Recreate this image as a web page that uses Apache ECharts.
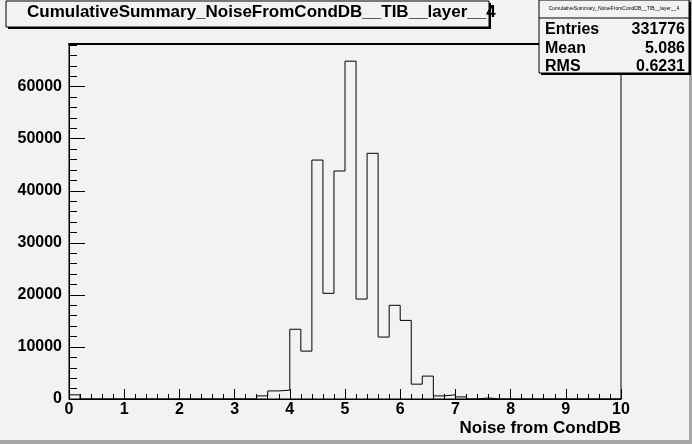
<!DOCTYPE html>
<html>
<head>
<meta charset="utf-8">
<script src="https://cdn.jsdelivr.net/npm/echarts@6/dist/echarts.min.js"></script>
<style>
  html, body { margin: 0; padding: 0; background: #f2f2f2; }
  #chart { width: 692px; height: 444px; }
</style>
</head>
<body>
<div id="chart"></div>
<script>
// histogram: 50 bins of 0.2 from 0 to 10
var histTitle = 'CumulativeSummary_NoiseFromCondDB__TIB__layer__4';
var xTitle = 'Noise from CondDB';
var xMin = 0;
var binWidth = 0.2;
var binCounts = [
  800, 0, 0, 0, 0, 0, 0, 0, 0, 0,
  0, 0, 0, 0, 0, 0, 0, 600, 1550, 1700,
  13400, 9200, 45900, 20300, 43800, 64900, 19200, 47200, 11900, 18000,
  15100, 2850, 4400, 600, 800, 400, 0, 200, 0, 0,
  0, 0, 0, 0, 0, 0, 0, 0, 0, 0
];
var yMax = 68200;
var statLabels = ['Entries', 'Mean', 'RMS'];
var statValues = ['331776', '5.086', '0.6231'];

var FONT = 'Liberation Sans, Arial, sans-serif';

// left bin edges -> step line (outline of histogram)
var stepData = binCounts.map(function (v, i) {
  return [xMin + i * binWidth, v];
});
stepData.push([xMin + binCounts.length * binWidth, binCounts[binCounts.length - 1]]);

// stats box (drawn above the frame)
var statsBox = { x: 539, y: 0, w: 150, h: 73 };
var statRowsY = [30, 49, 67];
var statElements = [
  { type: 'rect', z: 100, shape: { x: statsBox.x + 2, y: statsBox.y + 2, width: statsBox.w, height: statsBox.h }, style: { fill: '#000' } },
  { type: 'rect', z: 101, shape: { x: statsBox.x, y: statsBox.y, width: statsBox.w, height: statsBox.h }, style: { fill: '#f2f2f2', stroke: '#000', lineWidth: 1 } },
  { type: 'line', z: 102, shape: { x1: statsBox.x, y1: 18, x2: statsBox.x + statsBox.w, y2: 18 }, style: { stroke: '#000', lineWidth: 1 } },
  { type: 'text', z: 102, x: statsBox.x + statsBox.w / 2, y: 9, style: { text: histTitle, font: '5px ' + FONT, fill: '#000', align: 'center', verticalAlign: 'middle' } }
];
statLabels.forEach(function (lab, i) {
  statElements.push({ type: 'text', z: 102, x: statsBox.x + 6, y: statRowsY[i], style: { text: lab, font: 'bold 16px ' + FONT, fill: '#000', align: 'left', verticalAlign: 'middle' } });
  statElements.push({ type: 'text', z: 102, x: statsBox.x + statsBox.w - 4, y: statRowsY[i], style: { text: statValues[i], font: 'bold 16px ' + FONT, fill: '#000', align: 'right', verticalAlign: 'middle' } });
});

var chart = echarts.init(document.getElementById('chart'), null, { renderer: 'canvas' });

var option = {
  backgroundColor: '#f2f2f2',
  animation: false,
  title: {
    text: histTitle,
    left: 27,
    top: 4,
    padding: 0,
    textStyle: { fontFamily: FONT, fontWeight: 'bold', fontSize: 17, color: '#000' }
  },
  grid: {
    left: 69,
    right: 71,
    top: 44,
    bottom: 45,
    show: true,
    borderColor: '#000',
    borderWidth: 1,
    backgroundColor: 'transparent'
  },
  xAxis: [
    {
      type: 'value',
      min: 0,
      max: 10,
      interval: 1,
      name: xTitle,
      nameLocation: 'end',
      nameGap: 0,
      nameTextStyle: {
        fontFamily: FONT, fontWeight: 'bold', fontSize: 17, color: '#000',
        align: 'right', verticalAlign: 'top', padding: [21, 0, 0, 0]
      },
      axisLine: { lineStyle: { color: '#000', width: 1 } },
      axisTick: { inside: true, length: 10, lineStyle: { color: '#000' } },
      minorTick: { show: true, splitNumber: 5, length: 5, lineStyle: { color: '#000' } },
      axisLabel: { margin: 3, fontFamily: FONT, fontWeight: 'bold', fontSize: 16, color: '#000' },
      splitLine: { show: false }
    },
    {
      type: 'value',
      position: 'top',
      min: 0,
      max: 10,
      axisLine: { show: true, lineStyle: { color: '#000', width: 2 } },
      axisTick: { show: false },
      axisLabel: { show: false },
      splitLine: { show: false }
    }
  ],
  yAxis: {
    type: 'value',
    min: 0,
    max: yMax,
    interval: 10000,
    axisLine: { show: true, lineStyle: { color: '#000', width: 1 } },
    axisTick: { inside: true, length: 16, lineStyle: { color: '#000' } },
    minorTick: { show: true, splitNumber: 5, length: 8, lineStyle: { color: '#000' } },
    axisLabel: {
      margin: 7, showMaxLabel: false,
      formatter: function (v) { return String(v); },
      fontFamily: FONT, fontWeight: 'bold', fontSize: 16, color: '#000'
    },
    splitLine: { show: false }
  },
  series: [{
    type: 'line',
    xAxisIndex: 0,
    step: 'end',
    symbol: 'none',
    data: stepData,
    lineStyle: { color: '#000', width: 1 },
    silent: true
  }],
  graphic: [
    // canvas bevel (right and bottom)
    { type: 'rect', z: 100, shape: { x: 689, y: 0, width: 3, height: 444 }, style: { fill: '#a6a6a6' } },
    { type: 'rect', z: 100, shape: { x: 0, y: 440, width: 692, height: 4 }, style: { fill: '#a6a6a6' } },
    // title box with shadow
    { type: 'rect', z: -1, shape: { x: 8, y: 3, width: 483, height: 26 }, style: { fill: '#000' } },
    { type: 'rect', z: -1, shape: { x: 6, y: 1, width: 483, height: 26 }, style: { fill: '#f2f2f2', stroke: '#000', lineWidth: 1 } },
    { type: 'group', children: statElements }
  ]
};

chart.setOption(option);
</script>
</body>
</html>
